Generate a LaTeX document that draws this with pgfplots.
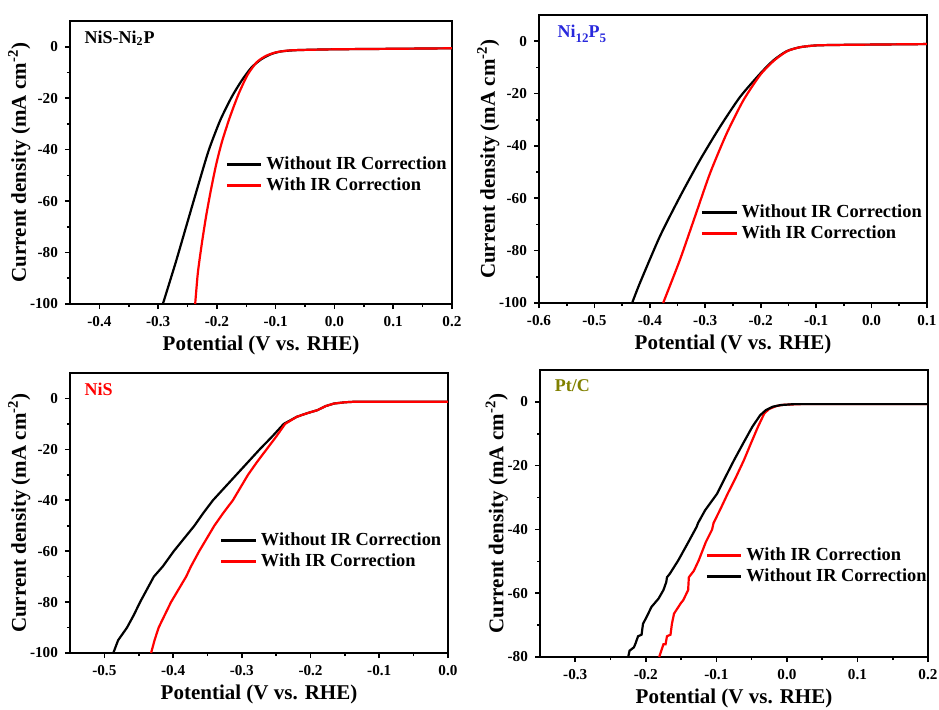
\documentclass[border=0pt]{standalone}
\usepackage{fontspec}
\setmainfont{Liberation Serif}
\usepackage{pgfplots}
\pgfplotsset{compat=1.18}
\definecolor{myred}{RGB}{255,0,0}
\definecolor{myblue}{RGB}{40,40,220}
\definecolor{myolive}{RGB}{128,128,0}
\pgfplotsset{
  every axis/.append style={
    scale only axis,
    axis line style={line width=1pt},
    /pgf/number format/assume math mode=true,
    /pgf/number format/fixed,
    /pgf/number format/fixed zerofill,
    tick label style={font=\bfseries\fontsize{7.6}{8}\selectfont},
    label style={font=\bfseries\fontsize{10.5}{12}\selectfont},
    xlabel={Potential (V vs. RHE)},
    ylabel={Current density (mA cm\textsuperscript{-2})},
    tick align=outside,
    xtick pos=bottom, ytick pos=left,
    major tick length=2.5pt, minor tick length=1.5pt,
    every tick/.style={line width=0.8pt, black},
    minor tick num=1,
    legend cell align=left,
    legend style={draw=none, fill=none, font=\bfseries\fontsize{9.2}{10}\selectfont, row sep=-1.5pt},
    legend image post style={line width=1.4pt},
    every axis plot/.append style={line width=1.1pt, no marks},
    xlabel style={yshift=2pt},
    ylabel style={yshift=-7pt},
  }
}
\begin{document}
\begin{tikzpicture}
% Panel 1
\begin{axis}[at={(35pt,202.5pt)}, anchor=south west, width=191pt, height=141.5pt,
  xmin=-0.45, xmax=0.2, ymin=-100, ymax=10,
  xtick={-0.4,-0.3,...,0.2}, ytick={-100,-80,...,0},
  yticklabel style={/pgf/number format/precision=0, /pgf/number format/fixed zerofill=false},
  xticklabel style={/pgf/number format/precision=1},
  legend style={at={(0.39,0.55)}, anchor=north west}]
\addplot[black, smooth, tension=0.4] coordinates {(-0.292,-100) (-0.2706,-84.2) (-0.2508,-68.7) (-0.231,-53.2) (-0.214,-40.3) (-0.1946,-28.7) (-0.175,-19.6) (-0.158,-13.2) (-0.141,-8.0) (-0.124,-4.8) (-0.107,-2.8) (-0.090,-1.8) (-0.062,-1.3) (0,-1.0) (0.1,-0.8) (0.2,-0.6)};
\addlegendentry{Without IR Correction}
\addplot[myred, smooth, tension=0.4] coordinates {(-0.237,-100) (-0.2325,-88) (-0.226,-77) (-0.2185,-66) (-0.2105,-56) (-0.2015,-46) (-0.1915,-37) (-0.178,-27.4) (-0.163,-18.3) (-0.148,-11.0) (-0.1326,-6.1) (-0.117,-3.6) (-0.100,-2.2) (-0.080,-1.5) (-0.062,-1.3) (0,-1.0) (0.1,-0.8) (0.2,-0.6)};
\addlegendentry{With IR Correction}
\node[anchor=north west, font=\bfseries\fontsize{9}{10}\selectfont] at (rel axis cs:0.02,0.99) {NiS-Ni\textsubscript{2}P};
\end{axis}
% Panel 2
\begin{axis}[at={(269.5pt,203pt)}, anchor=south west, width=194pt, height=144pt,
  xmin=-0.6, xmax=0.1, ymin=-100, ymax=10,
  xtick={-0.6,-0.5,...,0.1}, ytick={-100,-80,...,0},
  yticklabel style={/pgf/number format/precision=0, /pgf/number format/fixed zerofill=false},
  xticklabel style={/pgf/number format/precision=1},
  legend style={at={(0.40,0.37)}, anchor=north west}]
\addplot[black, smooth, tension=0.4] coordinates {(-0.432,-100) (-0.418,-92.4) (-0.382,-74.6) (-0.3457,-59.4) (-0.3096,-45.4) (-0.2734,-32.7) (-0.2373,-21.3) (-0.201,-12.4) (-0.177,-7.3) (-0.153,-3.8) (-0.129,-2.3) (-0.099,-1.6) (-0.05,-1.4) (0,-1.3) (0.1,-1.1)};
\addlegendentry{Without IR Correction}
\addplot[myred, smooth, tension=0.4] coordinates {(-0.376,-100) (-0.3457,-83.5) (-0.3186,-67) (-0.2915,-50.5) (-0.2613,-35.2) (-0.2313,-22.6) (-0.201,-12.9) (-0.177,-7.6) (-0.153,-3.9) (-0.129,-2.3) (-0.099,-1.6) (-0.05,-1.4) (0,-1.3) (0.1,-1.1)};
\addlegendentry{With IR Correction}
\node[anchor=north west, font=\bfseries\fontsize{9}{10}\selectfont, text=myblue] at (rel axis cs:0.03,0.99) {Ni\raisebox{-2.5pt}{\fontsize{6.5}{7}\selectfont 12}P\raisebox{-2.5pt}{\fontsize{6.5}{7}\selectfont 5}};
\end{axis}
% Panel 3
\begin{axis}[at={(35pt,28pt)}, anchor=south west, width=189pt, height=140pt,
  xmin=-0.55, xmax=0.0, ymin=-100, ymax=10,
  xtick={-0.5,-0.4,...,0.0}, ytick={-100,-80,...,0},
  yticklabel style={/pgf/number format/precision=0, /pgf/number format/fixed zerofill=false},
  xticklabel style={/pgf/number format/precision=1},
  legend style={at={(0.38,0.46)}, anchor=north west}]
\addplot[black] coordinates {(-0.487,-100) (-0.480,-95) (-0.467,-90) (-0.457,-85) (-0.448,-80) (-0.438,-75) (-0.428,-70) (-0.415,-66) (-0.399,-60) (-0.384,-55) (-0.369,-50) (-0.356,-45) (-0.342,-40) (-0.325,-35) (-0.308,-30) (-0.291,-25) (-0.274,-20) (-0.256,-15) (-0.239,-10) (-0.22,-7.2) (-0.205,-5.8) (-0.190,-4.6) (-0.178,-3.0) (-0.166,-2.0) (-0.150,-1.5) (-0.137,-1.3) (-0.1,-1.3) (0,-1.3)};
\addlegendentry{Without IR Correction}
\addplot[myred] coordinates {(-0.432,-100) (-0.427,-95) (-0.421,-90) (-0.412,-85) (-0.403,-80) (-0.392,-75) (-0.381,-70) (-0.374,-66) (-0.362,-60) (-0.351,-55) (-0.340,-50) (-0.327,-45) (-0.313,-40) (-0.302,-35) (-0.291,-30) (-0.278,-25) (-0.264,-20) (-0.250,-15) (-0.237,-10) (-0.22,-7.2) (-0.205,-5.8) (-0.190,-4.6) (-0.178,-3.0) (-0.166,-2.0) (-0.150,-1.5) (-0.137,-1.3) (-0.1,-1.3) (0,-1.3)};
\addlegendentry{With IR Correction}
\node[anchor=north west, font=\bfseries\fontsize{9}{10}\selectfont, text=myred] at (rel axis cs:0.02,0.99) {NiS};
\end{axis}
% Panel 4
\begin{axis}[at={(270pt,26pt)}, anchor=south west, width=194pt, height=143.5pt,
  xmin=-0.35, xmax=0.2, ymin=-80, ymax=10,
  xtick={-0.3,-0.2,...,0.2}, ytick={-80,-60,...,0},
  yticklabel style={/pgf/number format/precision=0, /pgf/number format/fixed zerofill=false},
  xticklabel style={/pgf/number format/precision=1},
  legend style={at={(0.41,0.41)}, anchor=north west}]
\addplot[myred] coordinates {(-0.181,-80) (-0.178,-78) (-0.175,-76) (-0.172,-76) (-0.170,-73.5) (-0.165,-73) (-0.163,-69.6) (-0.160,-66.4) (-0.150,-63) (-0.147,-62.2) (-0.140,-59) (-0.139,-55) (-0.132,-53) (-0.125,-49.7) (-0.115,-44) (-0.106,-40) (-0.104,-38) (-0.094,-33.5) (-0.084,-28.8) (-0.072,-23.5) (-0.061,-18.3) (-0.051,-13) (-0.041,-7.8) (-0.032,-3.6) (-0.025,-2.2) (-0.015,-1.3) (-0.005,-0.9) (0.02,-0.7) (0.2,-0.7)};
\addlegendentry{With IR Correction}
\addplot[black] coordinates {(-0.225,-80) (-0.223,-78) (-0.217,-77) (-0.215,-76) (-0.211,-73.5) (-0.206,-73) (-0.204,-69.6) (-0.199,-67.5) (-0.192,-64.3) (-0.182,-61.7) (-0.175,-59) (-0.171,-56.5) (-0.170,-55) (-0.166,-53.9) (-0.154,-49.7) (-0.141,-44.5) (-0.128,-39.2) (-0.126,-38) (-0.116,-34) (-0.099,-28.8) (-0.087,-23.5) (-0.075,-18.3) (-0.062,-13) (-0.049,-7.8) (-0.038,-4.2) (-0.030,-2.6) (-0.020,-1.5) (-0.009,-1.0) (0.01,-0.7) (0.2,-0.7)};
\addlegendentry{Without IR Correction}
\node[anchor=north west, font=\bfseries\fontsize{9}{10}\selectfont, text=myolive] at (rel axis cs:0.02,0.99) {Pt/C};
\end{axis}
\pgfresetboundingbox
\useasboundingbox (0pt,0pt) rectangle (469.5pt,354.5pt);
\end{tikzpicture}
\end{document}
